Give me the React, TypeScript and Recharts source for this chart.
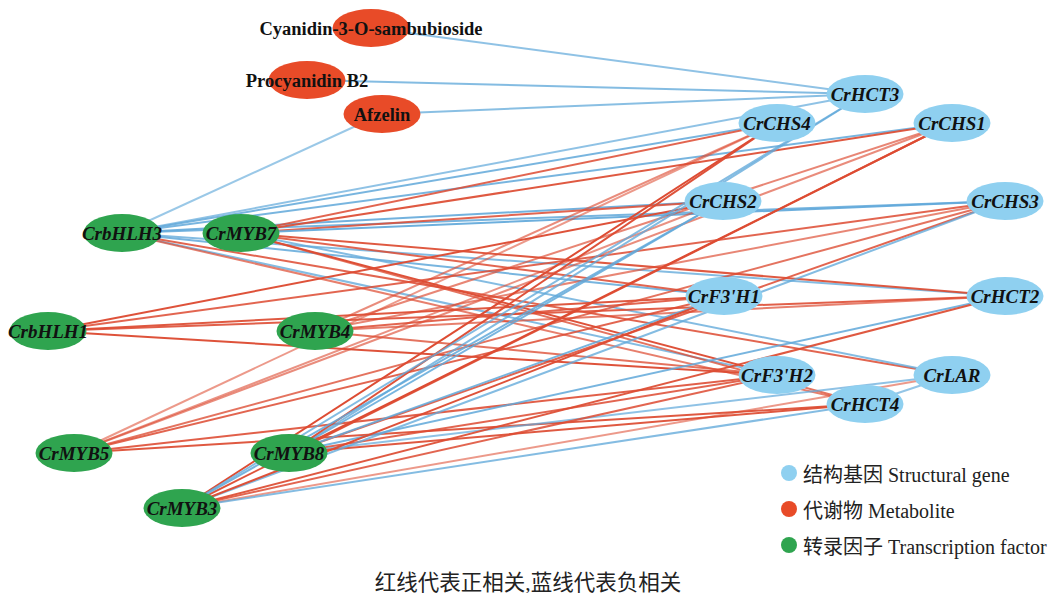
import React from 'react';
import { ScatterChart, Scatter, XAxis, YAxis } from 'recharts';

// Node layout (x, y in the 1056 x 593 drawing space) and node group
const nodeNames = [
  'Cyanidin-3-O-sambubioside', 'Procyanidin B2', 'Afzelin',
  'CrHCT3', 'CrCHS4', 'CrCHS1', 'CrCHS2', 'CrCHS3', "CrF3'H1", 'CrHCT2', "CrF3'H2", 'CrLAR', 'CrHCT4',
  'CrbHLH3', 'CrMYB7', 'CrbHLH1', 'CrMYB4', 'CrMYB5', 'CrMYB8', 'CrMYB3',
];
const nodeX = [371, 307, 382, 865, 777, 952, 723, 1005, 724, 1005, 777, 952, 865, 122, 241, 48, 315, 74, 289, 182];
const nodeY = [28, 80, 114, 94, 123, 123, 201, 201, 296, 296, 375, 375, 404, 233, 233, 331, 331, 453, 453, 508];
const nodeGroup = [
  'metabolite', 'metabolite', 'metabolite',
  'gene', 'gene', 'gene', 'gene', 'gene', 'gene', 'gene', 'gene', 'gene', 'gene',
  'tf', 'tf', 'tf', 'tf', 'tf', 'tf', 'tf',
];

// Correlation edges: [source, target, r]  (r > 0 red, r < 0 blue)
const edges: Array<[string, string, number]> = [
  ['Cyanidin-3-O-sambubioside', 'CrHCT3', -0.86],
  ['Procyanidin B2', 'CrHCT3', -0.88],
  ['Afzelin', 'CrHCT3', -0.87],
  ['Afzelin', 'CrbHLH3', -0.84],

  ['CrbHLH3', 'CrHCT3', -0.86],
  ['CrbHLH3', 'CrCHS4', -0.9],
  ['CrbHLH3', 'CrCHS1', -0.9],
  ['CrbHLH3', 'CrCHS2', -0.91],
  ['CrbHLH3', 'CrCHS3', -0.9],
  ['CrbHLH3', "CrF3'H1", -0.9],
  ['CrbHLH3', 'CrHCT2', -0.88],
  ['CrbHLH3', "CrF3'H2", -0.88],
  ['CrbHLH3', 'CrLAR', 0.9],
  ['CrbHLH3', 'CrHCT4', 0.86],

  ['CrMYB7', 'CrCHS4', 0.9],
  ['CrMYB7', 'CrCHS1', 0.92],
  ['CrMYB7', 'CrCHS2', 0.9],
  ['CrMYB7', 'CrCHS3', -0.92],
  ['CrMYB7', "CrF3'H1", 0.9],
  ['CrMYB7', 'CrHCT2', 0.92],
  ['CrMYB7', "CrF3'H2", 0.93],
  ['CrMYB7', 'CrLAR', -0.88],
  ['CrMYB7', 'CrHCT4', 0.88],

  ['CrbHLH1', 'CrCHS2', 0.93],
  ['CrbHLH1', 'CrCHS3', 0.9],
  ['CrbHLH1', "CrF3'H1", 0.92],
  ['CrbHLH1', 'CrHCT2', 0.91],
  ['CrbHLH1', "CrF3'H2", 0.93],

  ['CrMYB4', 'CrCHS4', 0.84],
  ['CrMYB4', 'CrCHS1', 0.85],
  ['CrMYB4', 'CrCHS3', 0.85],
  ['CrMYB4', "CrF3'H1", 0.9],
  ['CrMYB4', 'CrHCT2', 0.86],
  ['CrMYB4', "CrF3'H2", 0.88],

  ['CrMYB5', 'CrCHS4', 0.82],
  ['CrMYB5', 'CrCHS2', 0.83],
  ['CrMYB5', 'CrCHS1', 0.84],
  ['CrMYB5', 'CrCHS3', 0.88],
  ['CrMYB5', "CrF3'H1", 0.9],
  ['CrMYB5', "CrF3'H2", 0.91],
  ['CrMYB5', 'CrHCT4', 0.92],

  ['CrMYB8', 'CrHCT3', -0.88],
  ['CrMYB8', 'CrCHS4', 0.93],
  ['CrMYB8', 'CrCHS1', 0.94],
  ['CrMYB8', 'CrCHS2', -0.9],
  ['CrMYB8', 'CrCHS3', 0.9],
  ['CrMYB8', "CrF3'H1", -0.9],
  ['CrMYB8', 'CrHCT2', -0.9],
  ['CrMYB8', "CrF3'H2", 0.9],
  ['CrMYB8', 'CrLAR', -0.86],
  ['CrMYB8', 'CrHCT4', 0.92],

  ['CrMYB3', 'CrCHS4', 0.94],
  ['CrMYB3', 'CrHCT3', -0.88],
  ['CrMYB3', 'CrCHS1', 0.93],
  ['CrMYB3', 'CrCHS2', -0.9],
  ['CrMYB3', 'CrCHS3', -0.88],
  ['CrMYB3', "CrF3'H1", 0.93],
  ['CrMYB3', 'CrHCT2', 0.92],
  ['CrMYB3', "CrF3'H2", 0.9],
  ['CrMYB3', 'CrLAR', 0.82],
  ['CrMYB3', 'CrHCT4', -0.88],

  ['CrLAR', 'CrHCT4', -0.85],
];

// Legend entries and caption
const legendLabels = ['结构基因 Structural gene', '代谢物 Metabolite', '转录因子 Transcription factor'];
const legendGroups = ['gene', 'metabolite', 'tf'];
const caption = '红线代表正相关,蓝线代表负相关';

const groupColor: Record<string, string> = {
  gene: '#8FD0F0',
  metabolite: '#E84B28',
  tf: '#2FA44F',
};
const POS = '#DD4C33';
const NEG = '#62A9DA';
const SERIF = "'Liberation Serif', 'Times New Roman', 'Noto Sans CJK SC', serif";

const nodes = nodeNames.map((name, i) => ({ name, x: nodeX[i], y: nodeY[i], group: nodeGroup[i] }));
const nodeByName: Record<string, { name: string; x: number; y: number; group: string }> = {};
nodes.forEach((n) => { nodeByName[n.name] = n; });

// stronger correlations are drawn more opaque
const edgeOpacity = (r: number) => Math.min(1, 0.5 + ((Math.abs(r) - 0.8) / 0.14) * 0.5);

const NoMarker = () => <g />;

const NodeShape = (props: any) => {
  const { cx, cy, payload } = props;
  const isMetabolite = payload.group === 'metabolite';
  return (
    <g>
      <ellipse cx={cx} cy={cy} rx={38.5} ry={19} fill={groupColor[payload.group]} />
      <text
        x={cx}
        y={cy + 6.5}
        textAnchor="middle"
        fontFamily={SERIF}
        fontSize={isMetabolite ? 18.5 : 19}
        fontWeight="bold"
        fontStyle={isMetabolite ? 'normal' : 'italic'}
        fill="#111"
      >
        {payload.name}
      </text>
    </g>
  );
};

export default function App() {
  return (
    <div style={{ position: 'absolute', left: 0, top: 0, width: 1056, height: 593, background: '#fff' }}>
      <ScatterChart width={1056} height={593} margin={{ top: 0, right: 0, bottom: 0, left: 0 }}>
        <XAxis type="number" dataKey="x" domain={[0, 1056]} hide />
        <YAxis type="number" dataKey="y" domain={[0, 593]} reversed hide width={0} />
        {edges.map(([s, t, r], i) => (
          <Scatter
            key={`e${i}`}
            data={[nodeByName[s], nodeByName[t]]}
            line={{ stroke: r > 0 ? POS : NEG, strokeWidth: 2, strokeOpacity: edgeOpacity(r) }}
            shape={NoMarker}
            isAnimationActive={false}
            legendType="none"
          />
        ))}
        <Scatter data={nodes} shape={NodeShape} isAnimationActive={false} legendType="none" />
      </ScatterChart>
      {legendLabels.map((label, i) => (
        <div
          key={label}
          style={{
            position: 'absolute',
            left: 781,
            top: 462 + i * 36,
            height: 22,
            display: 'flex',
            alignItems: 'center',
            fontFamily: SERIF,
            fontSize: 20,
            color: '#222',
            whiteSpace: 'nowrap',
          }}
        >
          <span
            style={{
              display: 'inline-block',
              width: 16,
              height: 16,
              borderRadius: 8,
              background: groupColor[legendGroups[i]],
              marginRight: 6,
            }}
          />
          {label}
        </div>
      ))}
      <div
        style={{
          position: 'absolute',
          left: 0,
          width: 1056,
          top: 565,
          textAlign: 'center',
          fontFamily: SERIF,
          fontSize: 21.5,
          color: '#222',
        }}
      >
        {caption}
      </div>
    </div>
  );
}
